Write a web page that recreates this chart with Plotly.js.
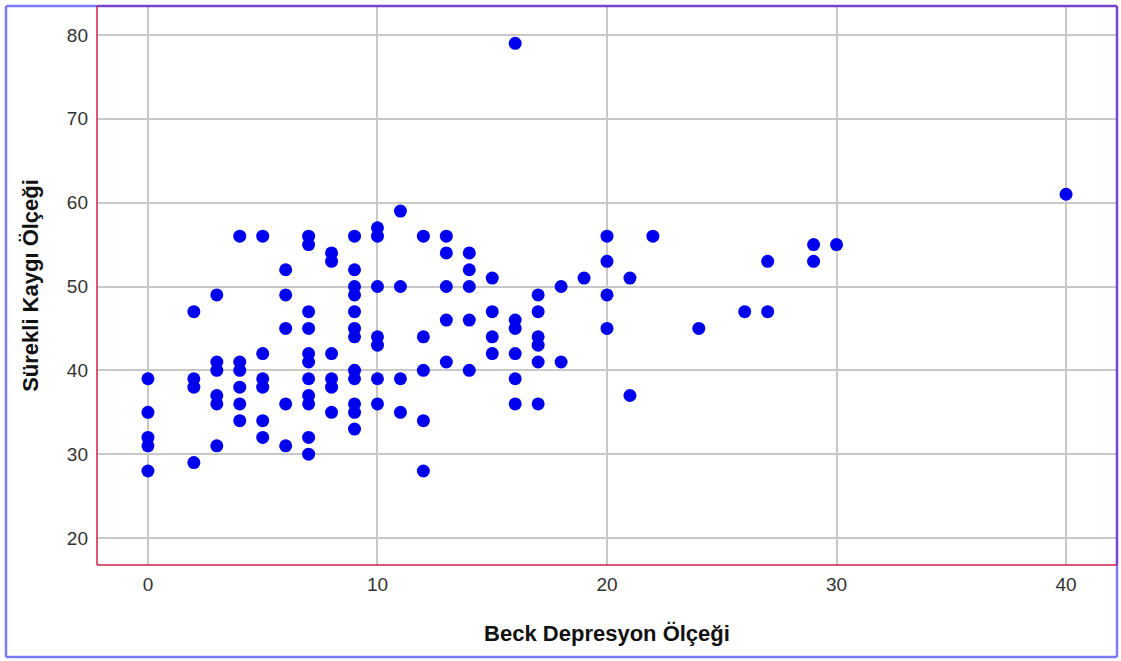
<!DOCTYPE html>
<html>
<head>
<meta charset="utf-8">
<script src="https://cdn.plot.ly/plotly-3.0.1.min.js"></script>
<style>html,body{margin:0;padding:0;background:#fff;}#chart{width:1121px;height:661px;}</style>
</head>
<body>
<div id="chart"></div>
<script>
// Beck Depresyon Ölçeği (x) and Sürekli Kaygı Ölçeği (y), one entry per respondent
const beckScores = [
  0,0,0,0,0,
  2,2,2,2,
  3,3,3,3,3,3,
  4,4,4,4,4,4,
  5,5,5,5,5,5,
  6,6,6,6,6,
  7,7,7,7,7,7,7,7,7,7,7,
  8,8,8,8,8,8,
  9,9,9,9,9,9,9,9,9,9,9,9,
  10,10,10,10,10,10,10,
  11,11,11,11,
  12,12,12,12,12,
  13,13,13,13,13,
  14,14,14,14,14,
  15,15,15,15,
  16,16,16,16,16,16,
  17,17,17,17,17,17,
  18,18,
  19,
  20,20,20,20,
  21,21,
  22,
  24,
  26,
  27,27,
  29,29,
  30,
  40
];
const anxietyScores = [
  39,35,32,31,28,
  47,39,38,29,
  49,41,40,37,36,31,
  56,41,40,38,36,34,
  56,42,39,38,34,32,
  52,49,45,36,31,
  56,55,47,45,42,41,39,37,36,32,30,
  54,53,42,39,38,35,
  56,52,50,49,47,45,44,40,39,36,35,33,
  57,56,50,44,43,39,36,
  59,50,39,35,
  56,44,40,34,28,
  56,54,50,46,41,
  54,52,50,46,40,
  51,47,44,42,
  79,46,45,42,39,36,
  49,47,44,43,41,36,
  50,41,
  51,
  56,53,49,45,
  51,37,
  56,
  45,
  47,
  53,47,
  55,53,
  55,
  61
];
const xTitle = 'Beck Depresyon Ölçeği';
const yTitle = 'Sürekli Kaygı Ölçeği';
const xTicks = [0, 10, 20, 30, 40];
const yTicks = [20, 30, 40, 50, 60, 70, 80];

const trace = {
  type: 'scatter',
  mode: 'markers',
  x: beckScores,
  y: anxietyScores,
  marker: {color: '#0000ee', size: 13, line: {width: 0}},
  hoverinfo: 'x+y'
};

// frame geometry in paper units (plot area 97..1117 x 6..565 px)
const fl = -91/1020, fb = -92/559;
const layout = {
  width: 1121, height: 661,
  margin: {l: 97, r: 4, t: 6, b: 96},
  paper_bgcolor: '#ffffff',
  plot_bgcolor: '#ffffff',
  showlegend: false,
  font: {family: 'Liberation Sans, Arial, sans-serif', color: '#333333', size: 19},
  xaxis: {
    range: [-2.22, 42.22],
    tickvals: xTicks,
    ticktext: xTicks.map(String),
    showgrid: true, gridcolor: '#c8c8c8', gridwidth: 1.5,
    zeroline: false, showline: false, ticks: '',
    ticklabelstandoff: 6,
    tickfont: {size: 19, color: '#333333'},
    title: {text: xTitle, font: {size: 22, color: '#111111', family: 'Liberation Sans, Arial, sans-serif', weight: 'bold'}, standoff: 31}
  },
  yaxis: {
    range: [16.79, 83.45],
    tickvals: yTicks,
    ticktext: yTicks.map(String),
    showgrid: true, gridcolor: '#c8c8c8', gridwidth: 1.5,
    zeroline: false, showline: false, ticks: '',
    ticklabelstandoff: 8,
    tickfont: {size: 19, color: '#333333'},
    title: {text: yTitle, font: {size: 22, color: '#111111', family: 'Liberation Sans, Arial, sans-serif', weight: 'bold'}, standoff: 22}
  },
  shapes: [
    // outer blue frame
    {type:'line', xref:'paper', yref:'paper', x0: fl, x1: fl, y0: fb, y1: 1, line:{color:'#7b7bff', width:2.5}},
    {type:'line', xref:'paper', yref:'paper', x0: fl, x1: 1, y0: fb, y1: fb, line:{color:'#7b7bff', width:2.5}},
    {type:'line', xref:'paper', yref:'paper', x0: fl, x1: 0, y0: 1, y1: 1, line:{color:'#7b7bff', width:2.5}},
    {type:'line', xref:'paper', yref:'paper', x0: 1, x1: 1, y0: fb, y1: 0, line:{color:'#7b7bff', width:2.5}},
    // plot-area border
    {type:'line', xref:'paper', yref:'paper', x0: 0, x1: 1, y0: 1, y1: 1, line:{color:'#7a42cc', width:2.5}},
    {type:'line', xref:'paper', yref:'paper', x0: 1, x1: 1, y0: 0, y1: 1, line:{color:'#7a42cc', width:2.5}},
    {type:'line', xref:'paper', yref:'paper', x0: 0, x1: 0, y0: 0, y1: 1, line:{color:'#cc1f4a', width:1.5}},
    {type:'line', xref:'paper', yref:'paper', x0: 0, x1: 1, y0: 0, y1: 0, line:{color:'#cc1f4a', width:1.5}}
  ]
};

Plotly.newPlot('chart', [trace], layout, {displayModeBar: false, staticPlot: false});
</script>
</body>
</html>
